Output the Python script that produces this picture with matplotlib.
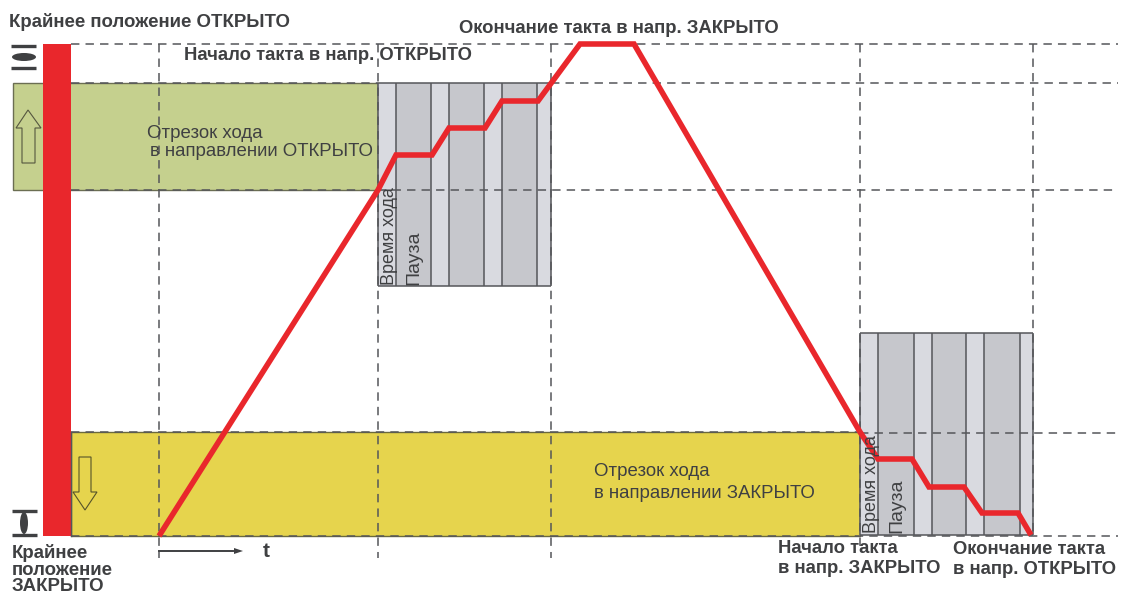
import matplotlib
matplotlib.use("Agg")
import matplotlib.pyplot as plt
from matplotlib.patches import Ellipse, Polygon, Rectangle

plt.rcParams["font.family"] = ["Liberation Sans", "DejaVu Sans"]

W, H = 1127, 593
RED = "#e9272c"
GREEN = "#c5d08e"
YELLOW = "#e6d44d"
LIGHT = "#d9dae0"
DARK = "#c6c7cc"
EDGE = "#55565a"
INK = "#3f4042"

# travel curve, in picture pixels
curve_x = [159, 378, 396, 432, 449, 485, 502, 538, 580, 634, 860, 878, 912, 929, 964, 982, 1018, 1031]
curve_y = [536, 190, 155, 155, 128, 128, 101, 101, 44, 44, 432, 459, 459, 487, 487, 513, 513, 535]

block1_edges = [378, 395.5, 431, 449, 484, 502, 537, 551]
block2_edges = [860, 878, 914, 932, 966, 984, 1020, 1033]

# x0, x1, y for the dashed horizontals
hlines = [(71, 1118, 44), (551, 1118, 83), (71, 378, 83), (71, 378, 190),
          (378, 1118, 190), (860, 1118, 433), (71, 860, 432), (71, 1118, 535.5)]
# x, y0, y1 for the dashed verticals
vlines = [(159, 44, 558), (378, 44, 558), (551, 44, 558), (860, 44, 546), (1033, 44, 536)]

arrow_up = [(22, 163), (22, 128), (16, 128), (28, 110), (41, 128), (35, 128), (35, 163)]
arrow_down = [(79, 457), (79, 492), (73, 492), (85, 510), (97, 492), (91, 492), (91, 457)]

bold_labels = [
    (9, 27, "Крайнее положение ОТКРЫТО", 13.4),
    (184, 60, "Начало такта в напр. ОТКРЫТО", 13.35),
    (459, 33, "Окончание такта в напр. ЗАКРЫТО", 13.35),
    (12, 558, "Крайнее", 13.4),
    (12, 575, "положение", 13.4),
    (12, 591, "ЗАКРЫТО", 13.4),
    (778, 553, "Начало такта", 13.3),
    (778, 573, "в напр. ЗАКРЫТО", 13.3),
    (953, 554, "Окончание такта", 13.3),
    (953, 574, "в напр. ОТКРЫТО", 13.3),
    (263, 557, "t", 15),
]
plain_labels = [
    (147, 134, "Отрезок хода"),
    (150, 152, "в направлении ОТКРЫТО"),
    (594, 472, "Отрезок хода"),
    (594, 493, "в направлении ЗАКРЫТО"),
]
rot_labels = [
    (389, 285, "Время хода", 13),
    (414, 285, "Пауза", 14),
    (871, 533, "Время хода", 13),
    (897, 533, "Пауза", 14),
]

fig = plt.figure(figsize=(W / 100, H / 100), dpi=100)
ax = fig.add_axes([0, 0, 1, 1])
ax.set_xlim(0, W)
ax.set_ylim(H, 0)
ax.axis("off")


def stripes(edges, y0, y1):
    for i in range(len(edges) - 1):
        c = LIGHT if i % 2 == 0 else DARK
        ax.add_patch(Rectangle((edges[i], y0), edges[i + 1] - edges[i], y1 - y0,
                               fc=c, ec="none", zorder=1))
    ax.vlines(edges, y0, y1, color=EDGE, lw=1.1, zorder=2)
    ax.hlines([y0, y1], edges[0], edges[-1], color=EDGE, lw=1.1, zorder=2)


ax.add_patch(Rectangle((13, 83), 365, 107, fc=GREEN, ec="#6b6e52", lw=1, zorder=1))
ax.add_patch(Rectangle((71, 432), 789, 104, fc=YELLOW, ec="#6b6a3c", lw=1, zorder=1))
stripes(block1_edges, 83, 286)
stripes(block2_edges, 333, 535)

for x0, x1, y in hlines:
    ax.plot([x0, x1], [y, y], color=EDGE, lw=1.1, dashes=(5.5, 4), zorder=3)
for x, y0, y1 in vlines:
    ax.plot([x, x], [y0, y1], color=EDGE, lw=1.1, dashes=(5.5, 4), zorder=3)

ax.add_patch(Rectangle((43, 44), 28, 492, fc=RED, ec="none", zorder=4))
ax.plot([71, 71], [432, 536], color=EDGE, lw=1, zorder=4)

ax.add_patch(Polygon(arrow_up, closed=True, fc="none", ec="#55563f", lw=0.8, zorder=5))
ax.add_patch(Polygon(arrow_down, closed=True, fc="none", ec="#55532a", lw=0.8, zorder=5))

# end position symbols next to the red bar
ax.hlines([46, 68], 11, 36, color=INK, lw=2.4, zorder=5)
ax.add_patch(Ellipse((24, 57), 24, 8, fc=INK, ec="none", zorder=5))
ax.hlines([511, 535], 12, 37, color=INK, lw=2.4, zorder=5)
ax.add_patch(Ellipse((24, 523), 8, 22, fc=INK, ec="none", zorder=5))

# time arrow
ax.plot([159, 233], [551, 551], color=INK, lw=1.4, zorder=5)
ax.add_patch(Polygon([(234, 548), (243, 551), (234, 554)], closed=True, fc=INK, ec="none", zorder=5))

ax.plot(curve_x, curve_y, color=RED, lw=4, solid_joinstyle="miter", solid_capstyle="butt", zorder=6)

for x, y, s, fs in bold_labels:
    ax.text(x, y, s, fontsize=fs, fontweight="bold", color=INK, ha="left", va="baseline", zorder=7)
for x, y, s in plain_labels:
    ax.text(x, y, s, fontsize=13.4, color=INK, ha="left", va="center", zorder=7)
for x, y, s, fs in rot_labels:
    ax.text(x, y, s, fontsize=fs, color=INK, rotation=90, ha="center", va="bottom", zorder=7)

fig.savefig("out.png", dpi=100, facecolor="white")
